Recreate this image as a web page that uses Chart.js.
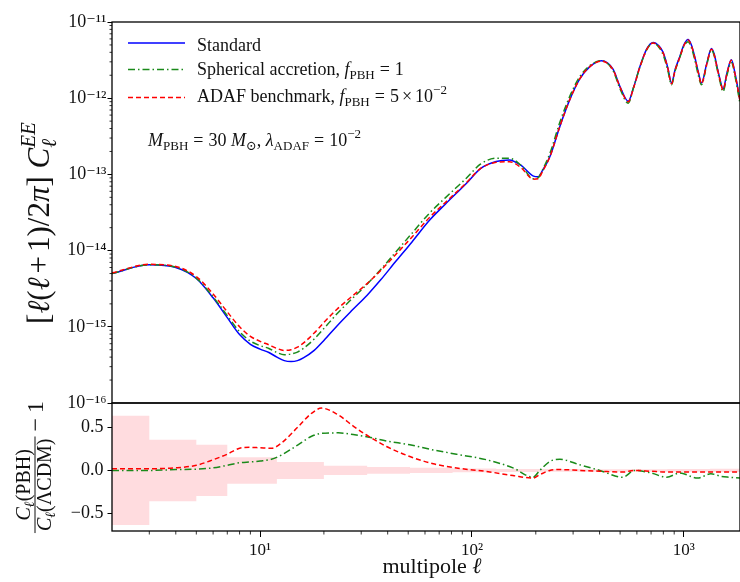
<!DOCTYPE html>
<html>
<head>
<meta charset="utf-8">
<script src="https://cdn.jsdelivr.net/npm/chart.js@4.4.1/dist/chart.umd.min.js"></script>
<style>
  html, body { margin: 0; padding: 0; background: #fff; }
  #wrap { position: relative; width: 740px; height: 582px; overflow: hidden; }
  #top { position: absolute; left: 0; top: 0; }
  #bottom { position: absolute; left: 0; top: 380px; }
</style>
</head>
<body>
<div id="wrap">
  <canvas id="top" width="740" height="430"></canvas>
  <canvas id="bottom" width="740" height="202"></canvas>
</div>
<script>
// multipoles where the EE spectra are read
const ells = [2, 3, 4, 5, 6, 7, 8, 9, 10, 11, 12, 13, 14, 15, 16, 18, 20, 23, 27, 32, 37, 44, 52,
  63, 75, 94, 110, 130, 150, 170, 195, 205, 215, 233, 260, 289, 322, 360, 408,
  463, 500, 546, 580, 620, 670, 716, 760, 798, 840, 874, 910, 956, 1000, 1046, 1085,
  1125, 1170, 1211, 1280, 1349, 1390, 1433, 1480, 1530, 1600, 1675, 1750, 1840];

const standardEE = [5.0e-15, 6.5e-15, 6.0e-15, 4.3e-15, 2.4e-15, 1.32e-15, 7.9e-16, 5.9e-16, 5.1e-16,
  4.6e-16, 4.0e-16, 3.6e-16, 3.5e-16, 3.6e-16, 3.9e-16,
  4.9e-16, 6.6e-16, 1.02e-15, 1.62e-15, 2.6e-15, 4.1e-15, 7.4e-15, 1.29e-14,
  2.5e-14, 4.1e-14, 7.6e-14, 1.2e-13, 1.48e-13, 1.55e-13, 1.32e-13, 9.5e-14,
  9.3e-14, 1.12e-13, 1.7e-13, 4.3e-13, 9.5e-13, 1.78e-12, 2.6e-12, 3.1e-12,
  2.4e-12, 1.41e-12, 9.1e-13, 1.41e-12, 2.6e-12, 4.5e-12, 5.4e-12, 4.9e-12,
  4.0e-12, 2.5e-12, 1.58e-12, 2.4e-12, 3.5e-12, 5.0e-12, 5.9e-12, 5.0e-12,
  3.5e-12, 2.2e-12, 1.58e-12, 2.8e-12, 4.5e-12, 3.8e-12, 2.6e-12, 1.78e-12,
  1.32e-12, 2.2e-12, 3.2e-12, 2.0e-12, 9.3e-13];

const sphericalEE = [5.0e-15, 6.5e-15, 6.06e-15, 4.36e-15, 2.47e-15, 1.4e-15, 8.6e-16, 6.5e-16, 5.66e-16,
  5.2e-16, 4.6e-16, 4.3e-16, 4.4e-16, 4.65e-16, 5.2e-16,
  6.9e-16, 9.5e-16, 1.47e-15, 2.3e-15, 3.63e-15, 5.6e-15, 9.8e-15, 1.68e-14,
  3.1e-14, 4.96e-14, 8.9e-14, 1.37e-13, 1.63e-13, 1.63e-13, 1.32e-13, 8.75e-14,
  9.0e-14, 1.14e-13, 1.88e-13, 4.86e-13, 1.05e-12, 1.9e-12, 2.68e-12, 3.1e-12,
  2.3e-12, 1.32e-12, 8.6e-13, 1.41e-12, 2.55e-12, 4.4e-12, 5.3e-12, 4.7e-12,
  3.72e-12, 2.3e-12, 1.5e-12, 2.3e-12, 3.4e-12, 4.8e-12, 5.5e-12, 4.6e-12,
  3.2e-12, 2.0e-12, 1.5e-12, 2.7e-12, 4.3e-12, 3.6e-12, 2.45e-12, 1.66e-12,
  1.22e-12, 2.05e-12, 2.95e-12, 1.84e-12, 8.5e-13];

const adafEE = [5.1e-15, 6.6e-15, 6.2e-15, 4.56e-15, 2.7e-15, 1.57e-15, 1.0e-15, 7.5e-16, 6.45e-16,
  5.8e-16, 5.2e-16, 4.9e-16, 5.0e-16, 5.4e-16, 6.1e-16,
  8.3e-16, 1.14e-15, 1.69e-15, 2.48e-15, 3.7e-15, 5.45e-15, 9.1e-15, 1.5e-14,
  2.72e-14, 4.3e-14, 7.75e-14, 1.2e-13, 1.44e-13, 1.47e-13, 1.23e-13, 8.65e-14,
  8.75e-14, 1.09e-13, 1.7e-13, 4.3e-13, 9.5e-13, 1.78e-12, 2.6e-12, 3.07e-12,
  2.36e-12, 1.39e-12, 9.0e-13, 1.39e-12, 2.57e-12, 4.45e-12, 5.3e-12, 4.8e-12,
  3.92e-12, 2.45e-12, 1.55e-12, 2.35e-12, 3.43e-12, 4.9e-12, 5.8e-12, 4.9e-12,
  3.43e-12, 2.16e-12, 1.55e-12, 2.75e-12, 4.4e-12, 3.72e-12, 2.55e-12, 1.74e-12,
  1.29e-12, 2.16e-12, 3.14e-12, 1.96e-12, 9.1e-13];

// relative difference C_l(PBH)/C_l(LCDM) - 1
const ellsRes = [2, 3, 4, 5, 6, 7, 8, 9, 10, 11.3, 12.6, 15.1, 17.5, 19.5, 23.4, 27.5, 31.8, 39.5,
  50.9, 65.6, 84.5, 117, 156, 194, 209, 233, 260, 322, 401, 514, 586, 700, 830, 955,
  1160, 1340, 1500, 1645, 1840];
const sphericalRes = [0.0, 0.0, 0.01, 0.015, 0.03, 0.06, 0.09, 0.10, 0.11, 0.13, 0.18, 0.30, 0.40,
  0.435, 0.44, 0.42, 0.395, 0.345, 0.30, 0.24, 0.19, 0.125, 0.03, -0.08, 0.0, 0.105, 0.13,
  0.066, 0.0, -0.08, 0.0, -0.03, -0.08, -0.03, -0.09, -0.04, -0.07, -0.08, -0.09];
const adafRes = [0.02, 0.02, 0.03, 0.06, 0.125, 0.19, 0.26, 0.27, 0.265, 0.26, 0.32, 0.51, 0.67,
  0.73, 0.65, 0.52, 0.415, 0.28, 0.163, 0.078, 0.028, -0.012, -0.06, -0.09, -0.05, 0.0, 0.01,
  0.0, -0.01, -0.02, 0.0, -0.01, -0.02, -0.02, -0.02, -0.02, -0.02, -0.02, -0.02];

// binned cosmic variance boxes
const binEdges = [2, 3, 5, 7, 12, 20, 32, 51, 81, 130, 208, 330, 525, 835, 1330, 1840];
const binErr = [0.64, 0.36, 0.30, 0.155, 0.10, 0.055, 0.04, 0.03, 0.022, 0.018, 0.016, 0.015, 0.015, 0.016, 0.02];

// tick values and labels
const eeTicks = [1e-16, 1e-15, 1e-14, 1e-13, 1e-12, 1e-11];
const eeTickLabels = ['10⁻¹⁶', '10⁻¹⁵', '10⁻¹⁴', '10⁻¹³', '10⁻¹²', '10⁻¹¹'];
const ellTicks = [10, 100, 1000];
const ellTickLabels = ['10¹', '10²', '10³'];
const resTicks = [-0.5, 0, 0.5];
const resTickLabels = ['−0.5', '0.0', '0.5'];

const serif = "'Liberation Serif', 'DejaVu Serif', serif";
const ink = '#111';

function minorValues(lo, hi) {
    const out = [];
    for (let d = Math.floor(Math.log10(lo)); d <= Math.ceil(Math.log10(hi)); d++) {
        for (let k = 2; k <= 9; k++) out.push(k * Math.pow(10, d));
    }
    return out;
}

function lineSet(label, xs, ys, color, dash, order) {
    return {
        label: label,
        data: xs.map((x, i) => ({ x: x, y: ys[i] })),
        borderColor: color,
        borderWidth: 1.5,
        borderDash: dash,
        pointRadius: 0,
        cubicInterpolationMode: 'monotone',
        fill: false,
        order: order
    };
}

// rich text: parts drawn one after the other from x on baseline y
function partsWidth(ctx, parts) {
    let w = 0;
    parts.forEach(p => {
        ctx.font = (p.it ? 'italic ' : '') + (p.size || 18) + 'px ' + serif;
        if (!p.stay) w += ctx.measureText(p.t).width + (p.gap || 0) * 2;
    });
    return w;
}
function drawParts(ctx, x, y, parts) {
    let cx = x;
    parts.forEach(p => {
        ctx.font = (p.it ? 'italic ' : '') + (p.size || 18) + 'px ' + serif;
        ctx.fillText(p.t, cx + (p.gap || 0), y + (p.dy || 0));
        if (!p.stay) cx += ctx.measureText(p.t).width + (p.gap || 0) * 2;
    });
    return cx - x;
}

// frame around the plotting area
const framePlugin = {
    id: 'frame',
    afterDraw(chart) {
        const a = chart.chartArea, ctx = chart.ctx;
        ctx.save();
        ctx.strokeStyle = '#000';
        ctx.lineWidth = 1.3;
        ctx.strokeRect(a.left, a.top, a.right - a.left, a.bottom - a.top);
        ctx.restore();
    }
};

// short ticks between the decades
const minorTickPlugin = {
    id: 'minorTicks',
    afterDraw(chart, args, opts) {
        const ctx = chart.ctx;
        (opts.list || []).forEach(m => {
            const s = chart.scales[m.scale];
            ctx.save();
            ctx.strokeStyle = '#000';
            ctx.lineWidth = 0.8;
            ctx.beginPath();
            m.values.forEach(v => {
                if (v <= s.min || v >= s.max) return;
                const p = s.getPixelForValue(v);
                if (s.isHorizontal()) {
                    ctx.moveTo(p, s.top);
                    ctx.lineTo(p, s.top + m.len);
                } else {
                    ctx.moveTo(s.right, p);
                    ctx.lineTo(s.right - m.len, p);
                }
            });
            ctx.stroke();
            ctx.restore();
        });
    }
};

// legend, annotation and y title of the upper panel
const upperTextPlugin = {
    id: 'upperText',
    afterDraw(chart) {
        const ctx = chart.ctx;
        const ds = chart.data.datasets;
        const rows = [
            { set: ds[0], line: 43, base: 51, parts: [{ t: 'Standard' }] },
            { set: ds[1], line: 69.5, base: 75, parts: [{ t: 'Spherical accretion, ' }, { t: 'f', it: true },
                { t: 'PBH', size: 13, dy: 4 }, { t: '=', gap: 5 }, { t: '1' }] },
            { set: ds[2], line: 97.5, base: 102, parts: [{ t: 'ADAF benchmark, ' }, { t: 'f', it: true },
                { t: 'PBH', size: 13, dy: 4 }, { t: '=', gap: 5 }, { t: '5' }, { t: '×', gap: 3 },
                { t: '10' }, { t: '−2', size: 13, dy: -8 }] }
        ];
        ctx.save();
        rows.forEach(r => {
            ctx.strokeStyle = r.set.borderColor;
            ctx.lineWidth = 1.5;
            ctx.setLineDash(r.set.borderDash || []);
            ctx.beginPath();
            ctx.moveTo(128, r.line);
            ctx.lineTo(185, r.line);
            ctx.stroke();
            ctx.setLineDash([]);
            ctx.fillStyle = ink;
            ctx.textBaseline = 'alphabetic';
            ctx.textAlign = 'left';
            drawParts(ctx, 197, r.base, r.parts);
        });

        drawParts(ctx, 148, 146, [
            { t: 'M', it: true }, { t: 'PBH', size: 13, dy: 4 }, { t: '=', gap: 5 }, { t: '30 ' },
            { t: 'M', it: true }, { t: '⊙', size: 13, dy: 4 }, { t: ', ' },
            { t: 'λ', it: true }, { t: 'ADAF', size: 13, dy: 4 }, { t: '=', gap: 5 }, { t: '10' },
            { t: '−2', size: 13, dy: -8 }
        ]);

        // [l(l+1)/2pi] C_l^EE, rotated
        const title = [
            { t: '[', size: 31 }, { t: 'ℓ', it: true, size: 31 }, { t: '(', size: 31 },
            { t: 'ℓ', it: true, size: 31 }, { t: '+', size: 31, gap: 4 }, { t: '1)/2', size: 31 },
            { t: 'π', it: true, size: 31 }, { t: ']', size: 31 }, { t: ' ', size: 31 },
            { t: 'C', it: true, size: 31 },
            { t: 'ℓ', it: true, size: 21, dy: 7, stay: true }, { t: 'EE', it: true, size: 21, dy: -14 }
        ];
        const w = partsWidth(ctx, title);
        ctx.fillStyle = ink;
        ctx.translate(49, 223);
        ctx.rotate(-Math.PI / 2);
        drawParts(ctx, -w / 2, 0, title);
        ctx.restore();
    }
};

// axis titles of the lower panel
const lowerTextPlugin = {
    id: 'lowerText',
    afterDraw(chart) {
        const ctx = chart.ctx;
        ctx.save();
        ctx.fillStyle = ink;
        ctx.textBaseline = 'alphabetic';
        ctx.textAlign = 'left';

        const xTitle = [{ t: 'multipole ', size: 22 }, { t: 'ℓ', it: true, size: 22 }];
        const xw = partsWidth(ctx, xTitle);
        drawParts(ctx, 432 - xw / 2, 193, xTitle);

        const num = [{ t: 'C', it: true, size: 20 }, { t: 'ℓ', it: true, size: 14, dy: 4 }, { t: '(PBH)', size: 20 }];
        const den = [{ t: 'C', it: true, size: 20 }, { t: 'ℓ', it: true, size: 14, dy: 4 }, { t: '(ΛCDM)', size: 20 }];
        const tail = [{ t: '−', size: 24, gap: 5 }, { t: '1', size: 24 }];
        const nw = partsWidth(ctx, num), dw = partsWidth(ctx, den), tw = partsWidth(ctx, tail);
        const fw = Math.max(nw, dw) + 4;
        const total = fw + tw;
        ctx.translate(35, 467 - 380);
        ctx.rotate(-Math.PI / 2);
        const x0 = -total / 2;
        drawParts(ctx, x0 + (fw - nw) / 2, -5, num);
        drawParts(ctx, x0 + (fw - dw) / 2, 16, den);
        ctx.strokeStyle = ink;
        ctx.lineWidth = 1;
        ctx.beginPath();
        ctx.moveTo(x0, 0);
        ctx.lineTo(x0 + fw, 0);
        ctx.stroke();
        drawParts(ctx, x0 + fw, 8, tail);
        ctx.restore();
    }
};

const tickFont = { family: serif, size: 17 };

new Chart(document.getElementById('top'), {
    type: 'line',
    data: {
        datasets: [
            lineSet('Standard', ells, standardEE, '#0000ff', [], 3),
            lineSet('Spherical accretion, fPBH = 1', ells, sphericalEE, '#1a8a1a', [7, 3, 1.5, 3], 2),
            lineSet('ADAF benchmark, fPBH = 5 × 10^-2', ells, adafEE, '#ff0000', [5, 3], 1)
        ]
    },
    options: {
        responsive: false,
        animation: false,
        layout: { padding: { left: 0, right: 0, top: 22, bottom: 27 } },
        plugins: {
            legend: { display: false },
            tooltip: { enabled: false },
            minorTicks: { list: [{ scale: 'y', values: minorValues(1e-16, 1e-11), len: 2.5 }] }
        },
        scales: {
            x: { type: 'logarithmic', min: 2, max: 1840, display: false },
            y: {
                type: 'logarithmic',
                min: 1e-16,
                max: 1e-11,
                afterFit: s => { s.width = 112; },
                afterBuildTicks: s => { s.ticks = eeTicks.map(v => ({ value: v })); },
                ticks: {
                    font: { family: serif, size: 18 },
                    color: ink,
                    padding: 1,
                    callback: v => eeTickLabels[eeTicks.indexOf(v)]
                },
                grid: { drawOnChartArea: false, tickLength: 4.5, color: '#000', tickWidth: 1 },
                border: { display: false }
            }
        }
    },
    plugins: [framePlugin, minorTickPlugin, upperTextPlugin]
});

const upperBox = binEdges.map((e, i) => ({ x: e, y: binErr[Math.min(i, binErr.length - 1)] }));
const lowerBox = binEdges.map((e, i) => ({ x: e, y: -binErr[Math.min(i, binErr.length - 1)] }));

new Chart(document.getElementById('bottom'), {
    type: 'line',
    data: {
        datasets: [
            { label: 'cv upper', data: upperBox, stepped: 'before', pointRadius: 0, borderWidth: 0,
              borderColor: 'rgba(0,0,0,0)', fill: false, order: 5 },
            { label: 'cv lower', data: lowerBox, stepped: 'before', pointRadius: 0, borderWidth: 0,
              borderColor: 'rgba(0,0,0,0)', backgroundColor: 'rgba(255,110,120,0.24)', fill: '-1', order: 4 },
            lineSet('Spherical accretion', ellsRes, sphericalRes, '#1a8a1a', [7, 3, 1.5, 3], 2),
            lineSet('ADAF benchmark', ellsRes, adafRes, '#ff0000', [5, 3], 1)
        ]
    },
    options: {
        responsive: false,
        animation: false,
        layout: { padding: { left: 0, right: 0, top: 23, bottom: 0 } },
        plugins: {
            legend: { display: false },
            tooltip: { enabled: false },
            filler: { propagate: false },
            minorTicks: { list: [{ scale: 'x', values: minorValues(2, 1840), len: 3.5 }] }
        },
        scales: {
            x: {
                type: 'logarithmic',
                min: 2,
                max: 1840,
                afterFit: s => { s.height = 51; },
                afterBuildTicks: s => { s.ticks = ellTicks.map(v => ({ value: v })); },
                ticks: {
                    font: tickFont,
                    color: ink,
                    padding: 3,
                    maxRotation: 0,
                    autoSkip: false,
                    callback: v => ellTickLabels[ellTicks.indexOf(v)]
                },
                grid: { drawOnChartArea: false, tickLength: 6, color: '#000', tickWidth: 1 },
                border: { display: false }
            },
            y: {
                type: 'linear',
                min: -0.71,
                max: 0.79,
                afterFit: s => { s.width = 112; },
                afterBuildTicks: s => { s.ticks = resTicks.map(v => ({ value: v })); },
                ticks: {
                    font: { family: serif, size: 18 },
                    color: ink,
                    padding: 4,
                    callback: v => resTickLabels[resTicks.indexOf(v)]
                },
                grid: { drawOnChartArea: false, tickLength: 4.5, color: '#000', tickWidth: 1 },
                border: { display: false }
            }
        }
    },
    plugins: [framePlugin, minorTickPlugin, lowerTextPlugin]
});
</script>
</body>
</html>
